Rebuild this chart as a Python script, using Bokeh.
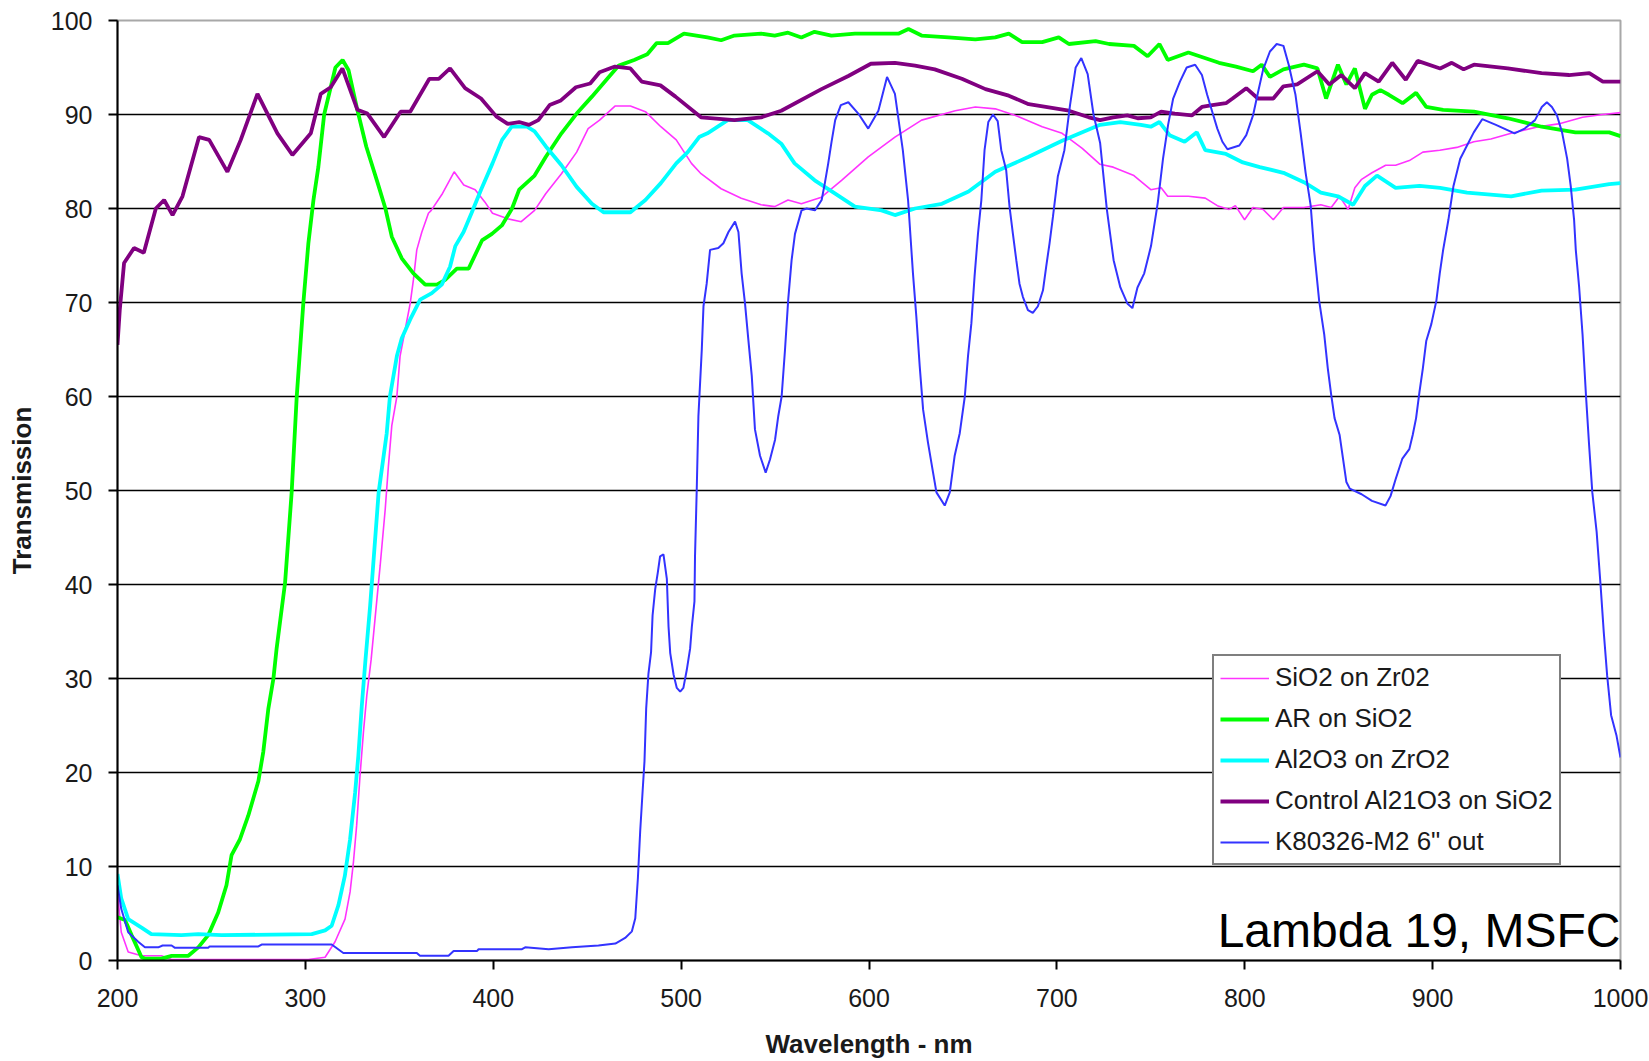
from bokeh.plotting import figure
from bokeh.models import Legend, LegendItem, Label, FixedTicker
from bokeh.embed import file_html
from bokeh.resources import INLINE

# ---------------- data (wavelength nm, transmission %) ----------------
WL_SIO2_ZR = [200, 202, 205.7, 212.8, 223.4, 228.8, 301.6, 310.5, 315.8, 321.1, 323.8, 325.6, 327.3,
              329.1, 330.9, 332.7, 335, 337.1, 339.8, 342.5, 344.2, 346, 348.7, 350.4, 353.1, 355.8,
              357.5, 359.3, 362, 365.5, 367, 373, 379.2, 384.3, 390.4, 395.5, 399.6, 407.7, 414.9,
              422, 428, 436.3, 444.4, 450.5, 456.6, 464.8, 473, 481, 489.2, 497.4, 505.5, 510.6,
              521.3, 532, 542.6, 549.8, 556.9, 564, 574.7, 585.4, 599.6, 613.8, 628, 645.9, 656.6,
              667.2, 678, 692.2, 702.8, 713.5, 723, 730, 741, 750, 755.5, 759, 770, 779, 785.4,
              791.7, 795, 799.9, 804.4, 809.8, 815.2, 820.6, 831.5, 840.5, 846, 850.5, 855, 858.6,
              862.2, 867.7, 875, 880.3, 887.6, 894.8, 903.8, 912.9, 921.9, 931, 941.8, 956.3, 967,
              979.8, 990.6, 1000]
T_SIO2_ZR = [7.3, 3.0, 0.9, 0.5, 0.5, 0.1, 0.1, 0.35, 2.0, 4.4, 7.3, 10.5, 14.4,
             19.7, 24.3, 28.2, 32.0, 36.4, 42.0, 48.0, 52.6, 56.9, 60.0, 64.3, 67.1, 69.9,
             72.4, 75.6, 77.5, 79.5, 79.8, 81.6, 83.9, 82.5, 82.0, 80.7, 79.5, 78.9, 78.6,
             79.8, 81.6, 83.7, 86.0, 88.5, 89.4, 90.9, 90.9, 90.3, 88.7, 87.3, 84.8, 83.7,
             82.1, 81.1, 80.4, 80.2, 80.9, 80.5, 81.2, 83.0, 85.5, 87.6, 89.4, 90.4, 90.8,
             90.6, 89.9, 88.7, 88.0, 86.4, 84.7, 84.4, 83.5, 82.0, 82.2, 81.3, 81.3, 81.1, 80.3,
             79.9, 80.3, 78.8, 80.1, 79.9, 78.8, 80.1, 80.1, 80.4, 80.1, 81.3, 79.9, 82.2,
             83.1, 83.8, 84.6, 84.6, 85.1, 86.0, 86.2, 86.5, 87.1, 87.4, 88.0, 88.7, 89.0,
             89.7, 90.0, 90.2]

WL_AR_SIO2 = [200, 204, 207.5, 212.8, 214.6, 223.4, 228.8, 237.7, 243, 248.3, 253.6, 258, 260.7,
              265.2, 269.6, 275, 277.6, 280.3, 283, 284.7, 289.2, 292.7, 295.4, 298.9, 301.6, 304.3,
              306.9, 310, 316, 319.8, 323, 327.3, 332.4, 338.5, 342.6, 346, 351.3, 357.5, 363.8,
              370, 374.4, 380.6, 386.9, 394, 399.3, 404.6, 410, 413.8, 422, 428, 436.3, 444.4,
              452.5, 460.7, 466.8, 475, 482, 487, 493, 501.5, 514, 521.3, 528.4, 542.6, 549.8,
              556.9, 564, 571, 580, 592.5, 606.7, 615.6, 621, 628, 642.3, 656.6, 667.2, 674.4,
              681.5, 692.2, 701, 706.4, 720.6, 727.8, 741, 748.3, 754.6, 759, 770, 786.3, 795.3,
              804.4, 809, 813.4, 820.6, 831.5, 838.7, 843.3, 849.6, 854.1, 858.6, 864, 867.7,
              872.2, 876.7, 884, 891.2, 896.6, 905.6, 922, 940, 958, 976, 994, 1000]
T_AR_SIO2 = [4.6, 4.3, 2.7, 0.35, 0.2, 0.2, 0.5, 0.5, 1.4, 2.7, 5.1, 8.0, 11.2,
             12.9, 15.4, 19.1, 22.2, 26.8, 30.0, 33.2, 40.2, 49.8, 60.0, 69.9, 76.3, 80.9,
             84.4, 90.0, 95.0, 95.8, 94.7, 90.8, 86.6, 82.7, 80.0, 77.0, 74.7, 73.1, 71.9,
             71.9, 72.4, 73.6, 73.6, 76.6, 77.3, 78.2, 80.0, 82.0, 83.5, 85.5, 88.0, 90.1,
             91.9, 93.8, 95.2, 95.8, 96.4, 97.6, 97.6, 98.6, 98.2, 97.9, 98.4, 98.6, 98.4,
             98.7, 98.2, 98.8, 98.4, 98.6, 98.6, 98.6, 99.1, 98.4, 98.2, 98.0, 98.2, 98.6,
             97.7, 97.7, 98.2, 97.5, 97.8, 97.5, 97.3, 96.2, 97.5, 95.8, 96.6, 95.5, 95.1,
             94.6, 95.3, 94.0, 94.8, 95.3, 94.9, 91.7, 95.3, 93.2, 94.9, 90.6, 92.1,
             92.6, 92.1, 91.2, 92.3, 90.8, 90.5, 90.3, 89.6, 88.7, 88.1, 88.1, 87.7]

WL_AL2O3_ZR = [200, 202, 205.7, 212.8, 218, 234, 243, 255.4, 303.4, 310.5, 314, 317.6, 321,
               323.8, 326.5, 328.2, 330, 332, 334.5, 339, 343.3, 345, 348.7, 351.3, 355.8, 361.1,
               367.3, 372.6, 377, 379.8, 384.2, 388.4, 393.5, 399.6, 404.7, 409.8, 418, 422, 428,
               436.3, 444.4, 452.5, 458.7, 473, 481, 489.2, 497.4, 503.5, 509.6, 514, 524.8,
               535.5, 546.2, 553.3, 560.4, 571.1, 581.8, 592.5, 606.7, 613.8, 624.5, 638.8, 653,
               667.2, 685, 702.8, 723, 733.8, 744.7, 750, 754.6, 760, 768, 774.5, 779, 790, 799,
               808, 820.6, 831.5, 840.5, 849.6, 857.7, 864, 870.4, 880.3, 893, 904, 918.3, 941.8,
               958, 976, 994, 1000]
T_AL2O3_ZR = [9.2, 6.6, 4.4, 3.5, 2.8, 2.7, 2.8, 2.7, 2.8, 3.2, 3.7, 5.9, 9.0,
              12.9, 17.9, 21.8, 27.0, 32.0, 37.8, 49.8, 56.1, 60.0, 64.3, 66.2, 68.2, 70.3,
              71.0, 71.9, 73.8, 76.0, 77.5, 79.5, 82.0, 84.8, 87.3, 88.7, 88.7, 88.2, 86.6,
              84.6, 82.3, 80.5, 79.6, 79.6, 80.9, 82.7, 84.8, 86.0, 87.6, 88.0, 89.4,
              89.4, 88.0, 86.9, 84.8, 83.0, 81.6, 80.2, 79.8, 79.3, 80.0, 80.5, 81.8,
              83.9, 85.5, 87.2, 88.9, 89.2, 88.9, 88.7, 89.2, 87.8, 87.1, 88.1, 86.2, 85.8, 84.9,
              84.4, 83.8, 82.8, 81.7, 81.3, 80.4, 82.4, 83.5, 82.2, 82.4, 82.2, 81.7, 81.3,
              81.9, 82.0, 82.6, 82.7]

WL_CONTROL = [200, 201.2, 203.5, 208.8, 214, 220.4, 224.8, 229.3, 234.6, 243.4, 248.8, 258.5,
              265.6, 274.5, 279.8, 285.1, 293.1, 302.9, 308.2, 313.5, 319.7, 327.7, 333, 341.9,
              350.7, 355.8, 366, 371, 377, 385, 393.5, 401.6, 407.7, 413.8, 419, 424, 430, 436,
              444, 451.6, 456.6, 464.8, 473, 479, 489, 497, 510.6, 528.4, 542.6, 553.3, 574.7,
              589, 601, 613.8, 624.5, 635, 649.4, 662, 674.4, 685, 706.4, 717, 723, 730, 737.5,
              743, 750, 755.5, 762.8, 771.8, 777.2, 782.7, 790, 793.5, 800.8, 807, 815.2, 820.6,
              827.9, 838.7, 845, 851.4, 858.6, 864, 871.3, 878.5, 885.7, 892, 904, 910.2, 916.5,
              922, 940, 958, 972.6, 983.4, 990.6, 1000]
T_CONTROL = [65.5, 69.2, 74.2, 75.8, 75.3, 80.0, 80.9, 79.3, 81.3, 87.6, 87.3, 83.9,
             87.3, 92.2, 90.1, 88.0, 85.7, 88.0, 92.2, 92.9, 94.9, 90.5, 90.1, 87.6,
             90.3, 90.3, 93.8, 93.8, 94.9, 92.8, 91.7, 89.8, 89.0, 89.2, 88.9, 89.4, 91.0, 91.5,
             92.9, 93.3, 94.5, 95.1, 94.9, 93.5, 93.1, 91.9, 89.7, 89.4, 89.7, 90.4, 92.7,
             94.1, 95.4, 95.5, 95.2, 94.8, 93.8, 92.7, 92.0, 91.1, 90.4, 89.7, 89.4, 89.7, 89.9,
             89.6, 89.7, 90.3, 90.1, 89.9, 90.8, 91.0, 91.2, 91.7, 92.8, 91.7, 91.7, 93.0,
             93.2, 94.6, 93.2, 94.2, 92.8, 94.4, 93.5, 95.5, 93.7, 95.7, 94.9, 95.5, 94.8,
             95.3, 94.9, 94.4, 94.2, 94.4, 93.5, 93.5]

WL_K80326 = [200, 202, 205.7, 211, 214.6, 221.7, 224, 228.8, 230.6, 248.3, 249, 275, 276.7, 314,
             320.2, 359.3, 361, 376.2, 378.9, 391.3, 392.2, 415.3, 417, 429.5, 441.9, 456, 465,
             470.2, 473.8, 475.6, 477, 478.2, 479.5, 480.5, 481.4, 482.6, 484, 484.8, 486.2,
             487.6, 488.8, 490.6, 492.4, 493.3, 494.2, 496, 497.7, 499.5, 501.2, 503, 504.8,
             505.7, 507.1, 507.4, 508.3, 509.2, 511, 511.9, 513.6, 515.4, 519.8, 522.5, 525.2,
             528.7, 530.5, 532.2, 534, 535.8, 537.6, 539.3, 542, 545, 547.3, 550, 551.7, 553.5,
             555.3, 557, 558.8, 560.6, 564.1, 566.8, 571.2, 574.8, 576.5, 578.3, 580, 582, 585,
             589, 594.3, 599.6, 605, 609.6, 613.8, 618, 620.8, 623.4, 625.2, 627, 628.8, 631.4,
             634.1, 635.9, 640.3, 643, 645.6, 648.3, 651, 652.7, 654.5, 656.2, 658, 659.8, 661.5,
             663.5, 666, 668.5, 670.4, 673, 674.8, 676.6, 678.4, 680.1, 681.9, 684.6, 687.2,
             689.9, 692.6, 694.3, 696.1, 697.9, 700.5, 704, 707, 710, 713, 716.4, 719.5, 723,
             726.6, 730.2, 733.8, 737.5, 740.2, 742.9, 746.5, 750.1, 753.7, 756.5, 759.2, 761.9,
             765.5, 769.1, 773.6, 777.2, 780, 782.7, 785.4, 788.1, 790.8, 797.1, 800.8, 804.4,
             807.1, 809.8, 813.4, 817, 820.6, 823.4, 827, 829.7, 832.4, 835.1, 836.9, 839.6,
             842.3, 844.2, 846, 847.8, 850.5, 852.3, 854.1, 855.9, 862.2, 867.7, 874.9, 877.6,
             880.3, 883.9, 887.6, 889.4, 891.2, 893, 894.8, 896.6, 899.3, 902, 903.8, 905.6,
             908.4, 911.1, 914.7, 918.3, 921.9, 926.4, 933.7, 943.6, 949, 954.5, 958.1, 960.8,
             963.5, 966.2, 968.9, 971.6, 973.5, 975.3, 976.2, 978, 979.8, 981.6, 983.2, 985,
             987.3, 989.4, 991.1, 992.9, 995, 997.9, 1000]
T_K80326 = [8.0, 5.5, 3.0, 2.0, 1.4, 1.4, 1.6, 1.6, 1.35, 1.35, 1.5, 1.5, 1.7, 1.7,
            0.8, 0.8, 0.5, 0.5, 1.0, 1.0, 1.2, 1.2, 1.4, 1.2, 1.4, 1.6, 1.8,
            2.4, 3.1, 4.5, 8.8, 13.7, 18.0, 21.2, 26.8, 30.5, 32.8, 36.7, 39.5,
            41.3, 43.0, 43.2, 40.6, 35.5, 32.7, 30.4, 29.0, 28.6, 29.0, 30.9, 33.2,
            35.5, 38.2, 43.1, 50.0, 57.9, 65.0, 69.6, 72.0, 75.6, 75.8, 76.3, 77.5,
            78.6, 77.5, 73.1, 69.9, 66.0, 62.2, 56.5, 53.7, 51.9, 53.3, 55.4, 57.9, 60.0,
            65.0, 70.3, 74.5, 77.3, 79.8, 80.0, 79.8, 80.9, 82.7, 84.8, 87.0, 89.4, 91.0,
            91.3, 90.1, 88.5, 90.4, 94.0, 92.2, 86.2, 80.9, 73.1, 68.5, 63.2, 58.6, 55.1,
            51.9, 49.8, 48.4, 49.8, 53.7, 56.1, 60.0, 64.3, 67.8, 72.8, 77.3, 80.9, 86.2,
            89.2, 90.0, 89.3, 86.2, 84.1, 80.2, 77.3, 74.5, 72.0, 70.6, 69.2, 68.9,
            69.6, 71.3, 73.8, 76.3, 79.1, 83.4, 86.2, 91.0, 95.0, 96.0, 94.3, 90.0, 87.0,
            79.9, 74.5, 71.6, 69.9, 69.4, 71.6, 73.1, 76.0, 80.6, 85.3, 88.9, 91.7,
            93.5, 95.0, 95.3, 94.2, 92.1, 90.3, 88.5, 87.1, 86.3, 86.7, 87.8, 89.9,
            92.4, 94.8, 96.7, 97.5, 97.3, 95.3, 92.1, 88.1, 83.8, 80.3, 75.6, 70.2,
            66.6, 63.0, 60.2, 57.7, 55.9, 53.4, 50.9, 50.2, 49.6, 48.9, 48.4, 49.4,
            51.2, 53.4, 54.4, 55.9, 57.7, 60.5, 63.0, 65.9, 67.7, 70.2, 73.1, 75.6,
            78.8, 82.4, 85.3, 86.7, 88.1, 89.5, 88.9, 88.0, 88.5, 89.4, 90.8, 91.3,
            90.8, 89.9, 88.1, 85.3, 82.4, 78.8, 75.6, 71.6, 66.6, 60.2, 55.1, 49.8,
            45.6, 39.9, 34.9, 30.3, 26.1, 23.9, 21.6]

SERIES_NAMES = ["SiO2 on Zr02", "AR on SiO2", "Al2O3 on ZrO2", "Control Al21O3 on SiO2",
                'K80326-M2 6" out']
X_TICKS = [200, 300, 400, 500, 600, 700, 800, 900, 1000]
Y_TICKS = [0, 10, 20, 30, 40, 50, 60, 70, 80, 90, 100]
GRID_TICKS = [10, 20, 30, 40, 50, 60, 70, 80, 90]

FONT = "Liberation Sans"

p = figure(width=1649, height=1061, x_range=(200, 1000), y_range=(0, 100),
           output_backend="svg", toolbar_location=None,
           min_border_left=117, min_border_right=29, min_border_top=20, min_border_bottom=98)
p.background_fill_color = "white"
p.border_fill_color = "white"
p.outline_line_color = "#A8A8A8"
p.outline_line_width = 2

# grid
p.xgrid.visible = False
p.ygrid.ticker = FixedTicker(ticks=GRID_TICKS)
p.ygrid.grid_line_color = "black"
p.ygrid.grid_line_width = 1.6

# axes
for ax in (p.xaxis[0], p.yaxis[0]):
    ax.axis_line_color = "black"
    ax.axis_line_width = 2
    ax.major_tick_line_color = "black"
    ax.major_tick_line_width = 2
    ax.major_tick_in = 0
    ax.major_tick_out = 9
    ax.minor_tick_line_color = None
    ax.major_label_text_font = FONT
    ax.major_label_text_font_size = "25px"
    ax.major_label_text_color = "#1a1a1a"
    ax.axis_label_text_font = FONT
    ax.axis_label_text_font_size = "26px"
    ax.axis_label_text_font_style = "bold"
    ax.axis_label_text_color = "#1a1a1a"

p.xaxis.ticker = FixedTicker(ticks=X_TICKS)
p.yaxis.ticker = FixedTicker(ticks=Y_TICKS)
p.xaxis.axis_label = "Wavelength - nm"
p.yaxis.axis_label = "Transmission"
p.xaxis.major_label_standoff = 19
p.yaxis.major_label_standoff = 16
p.xaxis.axis_label_standoff = 19
p.yaxis.axis_label_standoff = 11

# series
r1 = p.line(WL_SIO2_ZR, T_SIO2_ZR, line_color="#FF33FF", line_width=1.6)
r2 = p.line(WL_AR_SIO2, T_AR_SIO2, line_color="#00FF00", line_width=3.8)
r3 = p.line(WL_AL2O3_ZR, T_AL2O3_ZR, line_color="#00FFFF", line_width=3.8)
r4 = p.line(WL_CONTROL, T_CONTROL, line_color="#800080", line_width=3.8)
r5 = p.line(WL_K80326, T_K80326, line_color="#3333FF", line_width=2)

legend = Legend(items=[LegendItem(label=n, renderers=[r]) for n, r in
                       zip(SERIES_NAMES, [r1, r2, r3, r4, r5])],
                location=(1095, 95))
legend.border_line_color = "black"
legend.border_line_width = 2
legend.background_fill_color = "white"
legend.background_fill_alpha = 1
legend.padding = 6
legend.margin = 0
legend.spacing = 10
legend.glyph_width = 49
legend.glyph_height = 30
legend.label_height = 30
legend.label_standoff = 6
legend.label_text_font = FONT
legend.label_text_font_size = "26px"
legend.label_text_color = "#1a1a1a"
p.add_layout(legend)

note = Label(x=1000, y=3.2, text="Lambda 19, MSFC", text_align="right",
             text_baseline="alphabetic", text_font=FONT, text_font_size="48px",
             text_color="black")
p.add_layout(note)

open("out.html", "w").write(file_html(p, INLINE))
